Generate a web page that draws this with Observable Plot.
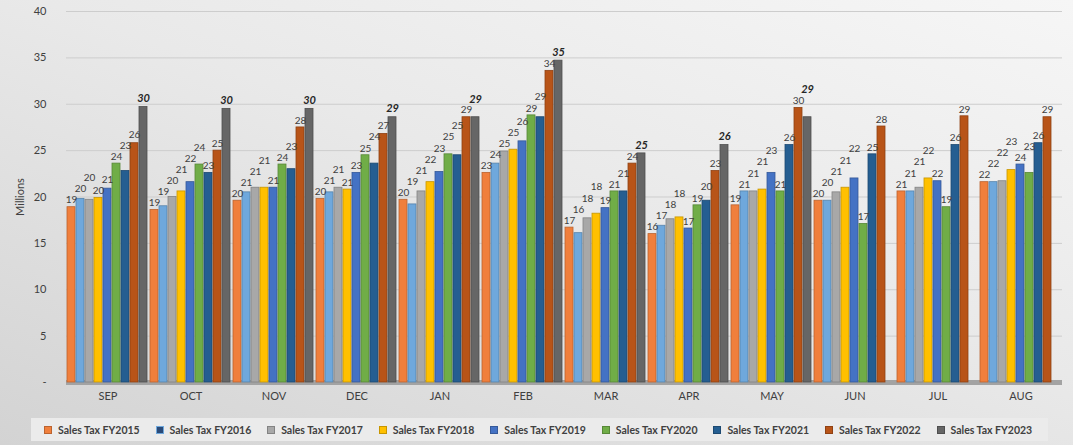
<!DOCTYPE html>
<html>
<head>
<meta charset="utf-8">
<script src="https://cdn.jsdelivr.net/npm/d3@7"></script>
<script src="https://cdn.jsdelivr.net/npm/@observablehq/plot@0.6"></script>
<style>
  html, body { margin: 0; padding: 0; }
  body {
    width: 1073px; height: 445px; overflow: hidden;
    background: linear-gradient(200deg, #f6f6f6 0%, #e9e9e9 45%, #d3d3d3 100%);
    font-family: Lato, "Noto Sans", sans-serif;
  }
  #chart svg { display: block; }
  #legend {
    position: absolute; left: 31px; top: 418px; width: 1017px; height: 23px;
    background: #ebebeb; display: flex; align-items: center; box-sizing: border-box;
    padding-left: 13px;
  }
  .item { width: 112px; display: flex; align-items: center; font-size: 10.5px; font-weight: bold; color: #404040; white-space: nowrap; }
  .sw { width: 8px; height: 8px; margin-right: 6px; box-sizing: border-box; }
</style>
</head>
<body>
<div id="chart"></div>
<div id="legend"></div>
<script>
const months = ["SEP","OCT","NOV","DEC","JAN","FEB","MAR","APR","MAY","JUN","JUL","AUG"];
const series = ["Sales Tax FY2015","Sales Tax FY2016","Sales Tax FY2017","Sales Tax FY2018","Sales Tax FY2019","Sales Tax FY2020","Sales Tax FY2021","Sales Tax FY2022","Sales Tax FY2023"];
const colors = ["#F07F3C","#6FA8DC","#A8A8A8","#FFC000","#4472C4","#70AD47","#255E91","#B85418","#666666"];

const fy2015 = [18.9, 18.6, 19.6, 19.8, 19.7, 22.6, 16.7, 16.0, 19.1, 19.6, 20.6, 21.6];
const fy2016 = [19.8, 19.0, 20.5, 20.5, 19.2, 23.6, 16.1, 16.9, 20.6, 19.6, 20.6, 21.6];
const fy2017 = [19.7, 20.0, 21.0, 21.0, 20.6, 24.9, 17.7, 17.6, 20.6, 20.5, 21.0, 21.7];
const fy2018 = [19.9, 20.6, 21.0, 20.8, 21.6, 25.1, 18.2, 17.8, 20.8, 21.0, 22.0, 22.9];
const fy2019 = [20.9, 21.6, 21.0, 22.6, 22.7, 26.0, 18.8, 16.6, 22.6, 22.0, 21.7, 23.5];
const fy2020 = [23.6, 23.5, 23.5, 24.5, 24.6, 28.8, 20.6, 19.1, 20.6, 17.1, 18.9, 22.6];
const fy2021 = [22.8, 22.6, 23.0, 23.6, 24.5, 28.6, 20.6, 19.6, 25.6, 24.6, 25.6, 25.8];
const fy2022 = [25.8, 25.0, 27.5, 26.8, 28.6, 33.6, 23.6, 22.8, 29.6, 27.6, 28.7, 28.6];
const fy2023 = [29.7, 29.5, 29.5, 28.6, 28.6, 34.7, 24.7, 25.6, 28.6, null, null, null];

const yTicks = [0, 5, 10, 15, 20, 25, 30, 35, 40];

const allSeries = [fy2015, fy2016, fy2017, fy2018, fy2019, fy2020, fy2021, fy2022, fy2023];
const lastIdx = series.length - 1;
const data = [];
allSeries.forEach((vals, si) => {
  vals.forEach((v, mi) => {
    if (v != null) data.push({month: months[mi], mi, series: series[si], si, value: v});
  });
});

// simple label de-collision: within a month, lift a label above its left neighbour if they would collide
const GAP = 1.2;
months.forEach((m, mi) => {
  let prev = -Infinity;
  data.filter(d => d.mi === mi).sort((a, b) => a.si - b.si).forEach(d => {
    let pos = d.value + (d.si === lastIdx ? 0.9 : 0.75);
    if (Math.abs(pos - prev) < GAP) pos = prev + GAP;
    d.labelPos = pos;
    prev = pos;
  });
});

const strokeColor = new Map(series.map((s, i) => [s, d3.color(colors[i]).darker(0.7).formatHex()]));
const fmt = d => String(Math.round(d.value));

const plot = Plot.plot({
  width: 1073,
  height: 410,
  marginTop: 11,
  marginBottom: 28,
  marginLeft: 62,
  marginRight: 8,
  style: {fontFamily: "Lato, 'Noto Sans', sans-serif", fontSize: "11px", background: "transparent", color: "#404040"},
  fx: {domain: months, padding: 0, label: null, tickSize: 0, tickPadding: 10},
  x: {domain: series, axis: null, paddingInner: 0.1, paddingOuter: 0.05},
  y: {domain: [0, 40], ticks: yTicks, tickFormat: d => d === 0 ? "-" : d, label: "Millions", labelAnchor: "center", labelArrow: "none", labelOffset: 50, tickSize: 0, tickPadding: 20},
  color: {domain: series, range: colors},
  marks: [
    Plot.gridY(yTicks.slice(1), {stroke: "#cdcdcd", strokeOpacity: 1}),
    Plot.ruleY([0], {stroke: "#a3a3a3", strokeWidth: 5}),
    Plot.barY(data, {fx: "month", x: "series", y: "value", fill: "series", stroke: d => strokeColor.get(d.series), strokeWidth: 0.8}),
    Plot.text(data.filter(d => d.si !== lastIdx), {fx: "month", x: "series", y: "labelPos", text: fmt, fill: "#404040", fontSize: 10}),
    Plot.text(data.filter(d => d.si === lastIdx), {fx: "month", x: "series", y: "labelPos", text: fmt, fill: "#262626", fontSize: 11, fontWeight: "bold", fontStyle: "italic"})
  ]
});
document.getElementById("chart").appendChild(plot);

const legend = document.getElementById("legend");
series.forEach((s, i) => {
  const item = document.createElement("div");
  item.className = "item";
  const sw = document.createElement("span");
  sw.className = "sw";
  if (i === 1) { sw.style.background = "#2A4A78"; sw.style.border = "1.5px solid #6FA8DC"; }
  else { sw.style.background = colors[i]; sw.style.border = "1px solid " + strokeColor.get(s); }
  const t = document.createElement("span");
  t.textContent = s;
  item.appendChild(sw); item.appendChild(t);
  legend.appendChild(item);
});
</script>
</body>
</html>
